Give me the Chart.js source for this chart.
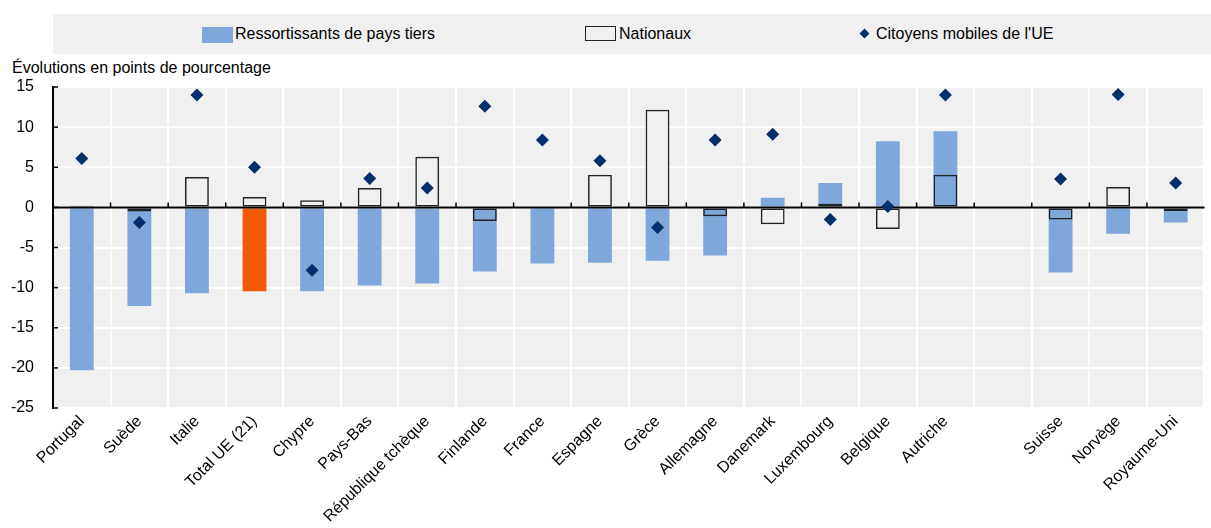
<!DOCTYPE html>
<html>
<head>
<meta charset="utf-8">
<script src="https://cdn.jsdelivr.net/npm/chart.js@4/dist/chart.umd.min.js"></script>
<style>
  body { margin: 0; background: #fff; font-family: "Liberation Sans", Arial, sans-serif; }
  #wrap { position: relative; width: 1211px; height: 528px; }
  #chart { position: absolute; left: 0; top: 0; }
  .band { position: absolute; left: 53px; top: 14px; width: 1158px; height: 40px; background: #f0f0f0; }
  .lg { position: absolute; font-size: 16px; color: #000; line-height: 18px; top: 25px; white-space: nowrap; }
  .sw { position: absolute; }
  #ytitle { position: absolute; left: 12px; top: 59px; font-size: 16px; line-height: 18px; color: #000; white-space: nowrap; }
</style>
</head>
<body>
<div id="wrap">
  <div class="band"></div>
  <div class="sw" style="left:202px;top:27px;width:31px;height:16px;background:#7fa7d9"></div>
  <div class="lg" style="left:235px">Ressortissants de pays tiers</div>
  <div class="sw" style="left:585px;top:26px;width:29px;height:13px;border:1px solid #222"></div>
  <div class="lg" style="left:619px">Nationaux</div>
  <div class="sw" style="left:861px;top:30px;width:7px;height:7px;background:#002f6c;transform:rotate(45deg)"></div>
  <div class="lg" style="left:876px">Citoyens mobiles de l'UE</div>
  <div id="ytitle">Évolutions en points de pourcentage</div>
  <canvas id="chart" width="1211" height="528"></canvas>
</div>
<script>
var categories = ['Portugal', 'Suède', 'Italie', 'Total UE (21)', 'Chypre', 'Pays-Bas', 'République tchèque',
  'Finlande', 'France', 'Espagne', 'Grèce', 'Allemagne', 'Danemark', 'Luxembourg', 'Belgique', 'Autriche',
  '', 'Suisse', 'Norvège', 'Royaume-Uni'];
var ressortissants = [-20.3, -12.3, -10.7, -10.45, -10.45, -9.75, -9.5, -8.0, -7.0, -6.9, -6.65, -6.0,
  1.2, 3.05, 8.25, 9.5, null, -8.1, -3.3, -1.9];
var nationaux = [0.2, -0.5, 3.8, 1.3, 0.9, 2.4, 6.3, -1.7, 0, 4.05, 12.15, -1.1,
  -2.1, 0.45, -2.7, 4.05, null, -1.5, 2.55, -0.45];
var citoyensUE = [6.1, -1.9, 14.0, 5.0, -7.85, 3.6, 2.4, 12.6, 8.4, 5.8, -2.5, 8.4,
  9.1, -1.5, 0.1, 14.0, null, 3.55, 14.05, 3.05];
var yTicks = [15, 10, 5, 0, -5, -10, -15, -20, -25];

var BLUE = '#7fa7d9', ORANGE = '#f15a06', NAVY = '#002f6c', BG = '#f0f0f0';

var blueColors = categories.map(function (c) { return c === 'Total UE (21)' ? ORANGE : BLUE; });

// grey plot background, zero line with small ticks, inward y ticks
var decorPlugin = {
  id: 'decor',
  beforeDraw: function (chart) {
    var a = chart.chartArea, ctx = chart.ctx;
    ctx.save();
    ctx.fillStyle = BG;
    ctx.fillRect(a.left, a.top, a.right - a.left, a.bottom - a.top);
    ctx.restore();
  },
  beforeDatasetDraw: function (chart, args) {
    if (args.meta.type !== 'line') return;
    var a = chart.chartArea, ctx = chart.ctx;
    var y0 = chart.scales.y.getPixelForValue(0);
    var xs = chart.scales.x;
    ctx.save();
    ctx.strokeStyle = '#000';
    ctx.lineWidth = 2;
    ctx.beginPath();
    ctx.moveTo(a.left, y0);
    ctx.lineTo(a.right, y0);
    ctx.stroke();
    ctx.lineWidth = 1.5;
    for (var i = 1; i < categories.length; i++) {
      var x = (xs.getPixelForValue(i - 1) + xs.getPixelForValue(i)) / 2;
      ctx.beginPath();
      ctx.moveTo(x, y0);
      ctx.lineTo(x, y0 - 5);
      ctx.stroke();
    }
    var ys = chart.scales.y;
    yTicks.forEach(function (v) {
      var y = ys.getPixelForValue(v);
      ctx.beginPath();
      ctx.moveTo(a.left, y);
      ctx.lineTo(a.left + 5, y);
      ctx.stroke();
    });
    ctx.restore();
  }
};

new Chart(document.getElementById('chart').getContext('2d'), {
  type: 'bar',
  data: {
    labels: categories,
    datasets: [{
      label: 'Citoyens mobiles de l\'UE',
      type: 'line',
      data: citoyensUE,
      showLine: false,
      pointStyle: 'rectRot',
      pointRadius: 6.5,
      pointBackgroundColor: NAVY,
      pointBorderColor: NAVY,
      pointBorderWidth: 0,
      order: 1
    }, {
      label: 'Nationaux',
      data: nationaux,
      backgroundColor: 'rgba(0,0,0,0)',
      borderColor: '#222',
      borderWidth: 1.5,
      borderSkipped: false,
      grouped: false,
      barPercentage: 0.414,
      categoryPercentage: 1,
      order: 2
    }, {
      label: 'Ressortissants de pays tiers',
      data: ressortissants,
      backgroundColor: blueColors,
      borderWidth: 0,
      grouped: false,
      barPercentage: 0.414,
      categoryPercentage: 1,
      order: 3
    }, {
      label: 'nat-fill',
      data: nationaux,
      backgroundColor: BG,
      borderWidth: 0,
      grouped: false,
      barPercentage: 0.414,
      categoryPercentage: 1,
      order: 4
    }]
  },
  options: {
    responsive: false,
    animation: false,
    layout: { padding: { top: 87, left: 0, right: 0, bottom: 0 } },
    plugins: {
      legend: { display: false },
      tooltip: { enabled: false }
    },
    scales: {
      x: {
        offset: true,
        grid: { color: '#fff', lineWidth: 2, offset: true, drawTicks: false },
        border: { display: false },
        ticks: {
          autoSkip: false,
          minRotation: 45,
          maxRotation: 45,
          padding: 4,
          color: '#000',
          font: { family: '"Liberation Sans", Arial, sans-serif', size: 16 }
        },
        afterFit: function (s) { s.height = 120; s.paddingRight = 0; s.paddingLeft = 0; }
      },
      y: {
        min: -25,
        max: 15,
        grid: { color: '#fff', lineWidth: 2, drawTicks: false },
        border: { display: true, color: '#000', width: 2 },
        ticks: {
          stepSize: 5,
          padding: 19,
          color: '#000',
          font: { family: '"Liberation Sans", Arial, sans-serif', size: 16 }
        },
        afterFit: function (s) { s.width = 53; }
      }
    }
  },
  plugins: [decorPlugin]
});
</script>
</body>
</html>
